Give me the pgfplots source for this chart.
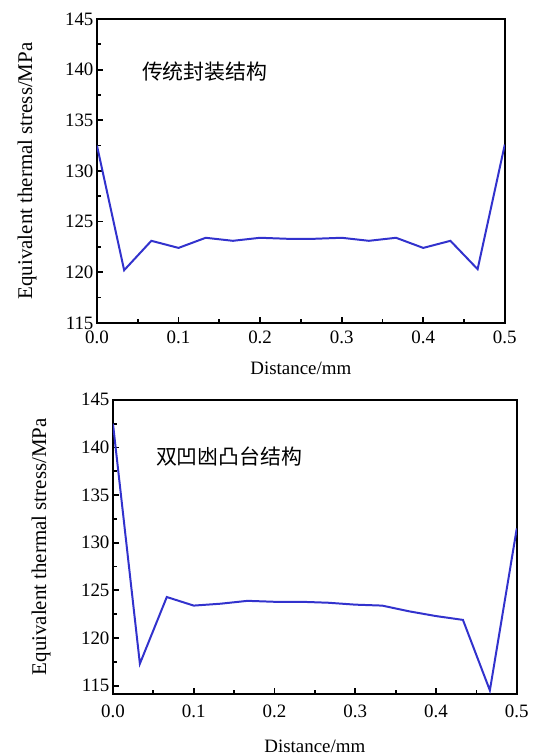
\documentclass[border=0pt]{standalone}
\usepackage{fontspec}
\setmainfont{Liberation Serif}
\newfontfamily\cjk{Noto Sans CJK SC}
\usepackage{pgfplots}
\pgfplotsset{compat=1.18}
\definecolor{curve}{RGB}{50,50,205}

\begin{document}
\begin{tikzpicture}[x=1bp,y=1bp]
\pgfplotsset{
  stressaxis/.style={
    scale only axis,
    anchor=south west, at={(0,0)},
    xmin=0, xmax=0.5,
    xtick={0,0.1,0.2,0.3,0.4,0.5},
    ytick={115,120,125,130,135,140,145},
    minor x tick num=1,
    minor y tick num=1,
    tick align=inside,
    xtick pos=bottom, ytick pos=left,
    axis line style={line width=2.4pt},
    major tick length=6bp, minor tick length=4bp,
    every tick/.style={line width=1.8pt, black},
    xticklabel style={/pgf/number format/fixed, /pgf/number format/fixed zerofill, /pgf/number format/precision=1},
    /pgf/number format/assume math mode=true,
    ticklabel style={font=\fontsize{19}{19}\selectfont},
    xlabel style={font=\fontsize{19}{19}\selectfont},
    ylabel style={font=\fontsize{21}{21}\selectfont},
    xlabel={Distance/mm},
    ylabel={Equivalent thermal stress/MPa},
  }
}

% conventional package structure
\begin{scope}[shift={(97bp,433bp)}]
\begin{axis}[stressaxis,
  width=408bp, height=304bp,
  ymin=115, ymax=145,
  xticklabel style={yshift=-5bp},
  xlabel style={at={(axis description cs:0.5,-0.171)}, anchor=base},
  ylabel style={at={(axis description cs:-0.1716,0.5)}, anchor=center},
]
\addplot[curve, line width=2pt] coordinates {
  (0,132.5) (0.03333,120.2) (0.06667,123.1) (0.1,122.4) (0.13333,123.4)
  (0.16667,123.1) (0.2,123.4) (0.23333,123.3) (0.26667,123.3) (0.3,123.4)
  (0.33333,123.1) (0.36667,123.4) (0.4,122.4) (0.43333,123.1) (0.46667,120.3)
  (0.5,132.6)
};
\node[anchor=west, font=\cjk\fontsize{21}{21}\selectfont] at (axis cs:0.051,139.8) {传统封装结构};
\end{axis}
\end{scope}

% double concave boss structure
\begin{scope}[shift={(113bp,62bp)}]
\begin{axis}[stressaxis,
  width=404bp, height=294bp,
  ymin=114.15, ymax=145,
  xticklabel style={yshift=-8bp},
  xlabel style={at={(axis description cs:0.5,-0.2)}, anchor=base},
  ylabel style={at={(axis description cs:-0.178,0.5)}, anchor=center},
]
\addplot[curve, line width=2pt] coordinates {
  (0,142.5) (0.03333,117.3) (0.06667,124.3) (0.1,123.4) (0.13333,123.6)
  (0.16667,123.9) (0.2,123.8) (0.23333,123.8) (0.26667,123.7) (0.3,123.5)
  (0.33333,123.4) (0.36667,122.8) (0.4,122.3) (0.43333,121.9) (0.46667,114.5)
  (0.5,131.5)
};
\node[anchor=west, font=\cjk\fontsize{21}{21}\selectfont] at (axis cs:0.049,139.1) {双凹凼凸台结构};
\end{axis}
\end{scope}

\path (0,0) rectangle (539,756);
\end{tikzpicture}
\end{document}
